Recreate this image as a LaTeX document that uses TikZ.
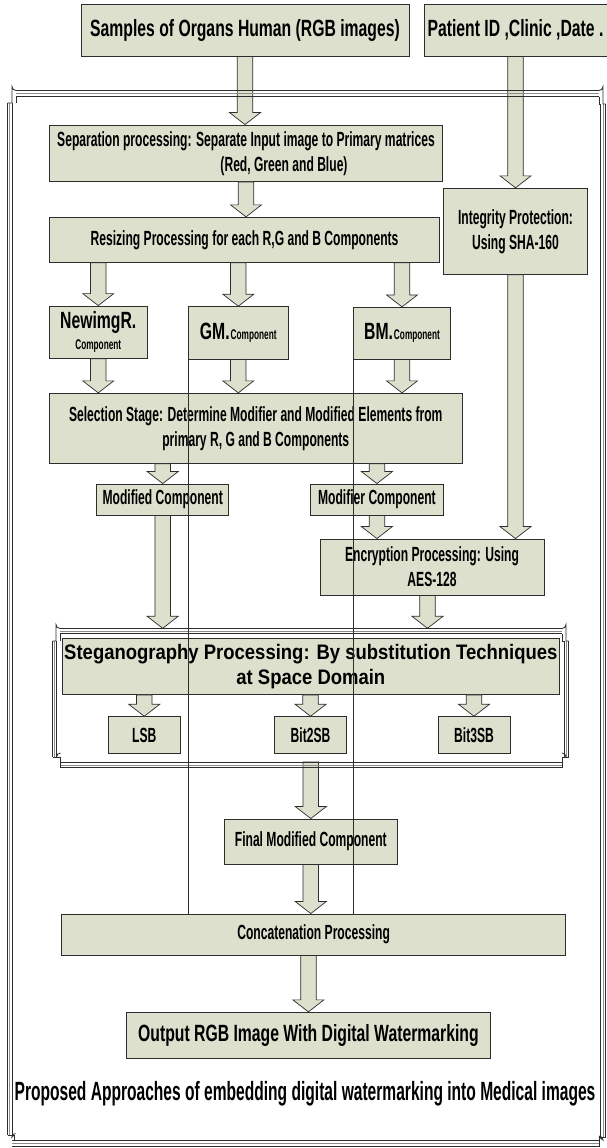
\documentclass[tikz,border=0pt]{standalone}
\usepackage{fontspec}
\usetikzlibrary{calc}
% condensed bold faces for the box labels
\newfontfamily\nb[FakeStretch=0.67]{Liberation Sans Bold}
\newfontfamily\nn[FakeStretch=0.59]{Liberation Sans Bold}
\newfontfamily\stegfont[FakeStretch=0.88]{Liberation Sans Bold}
\definecolor{boxfill}{RGB}{221,224,205}
\definecolor{edge}{RGB}{45,45,45}
\definecolor{midrule}{RGB}{140,140,140}

\tikzset{
  box/.style={draw=edge, fill=boxfill, line width=0.9pt, inner sep=0pt,
    align=center, text=black, font=\nn\fontsize{20.5}{25}\selectfont},
  bigtext/.style={font=\nb\fontsize{23.5}{28}\selectfont},
  blk/.style={draw=edge, fill=boxfill, line width=0.7pt, line join=miter,
    to path={let \p1=(\tikztostart), \p2=(\tikztotarget) in
      (\x1-7.75pt,\y1) -- (\x1-7.75pt,\y2+12pt) -- (\x1-15.5pt,\y2+12pt)
      -- (\x1,\y2) -- (\x1+15.5pt,\y2+12pt) -- (\x1+7.75pt,\y2+12pt)
      -- (\x1+7.75pt,\y1) -- cycle}},
  rule/.style={draw=edge, line width=0.8pt},
  rulelight/.style={draw=midrule, line width=0.6pt},
  thin/.style={draw=edge, line width=0.9pt},
}

\begin{document}
\begin{tikzpicture}[x=1pt,y=-1pt]
\useasboundingbox (0,0) rectangle (606,1148);
\fill[white] (0,0) rectangle (606,1148);

% ---------- boxes ----------
\node[box, bigtext, minimum width=328pt, minimum height=52pt] (samples) at (245,30)
  {Samples of Organs Human (RGB images)};
\node[box, bigtext, minimum width=183pt, minimum height=52pt] (patient) at (515.5,30)
  {Patient ID ,Clinic ,Date .};

\node[box, minimum width=393pt, minimum height=56.5pt] (sep) at (246,153.25)
  {Separation processing: Separate Input image to Primary matrices\\\hspace*{76pt}(Red, Green and Blue)};
\node[box, minimum width=144pt, minimum height=86pt] (integ) at (515.5,231.3)
  {Integrity Protection:\\Using SHA-160};
\node[box, minimum width=390pt, minimum height=45pt] (resize) at (244.5,239.8)
  {Resizing Processing for each R,G and B Components};

\node[box, font=\nn\fontsize{14}{21}\selectfont, minimum width=97.5pt, minimum height=52.3pt] (newr) at (98.25,332.2)
  {{\nb\fontsize{23.5}{21}\selectfont NewimgR.}\\Component};
\node[box, minimum width=99.4pt, minimum height=52.3pt] (gm) at (238.3,332.8)
  {{\nb\fontsize{23.5}{28}\selectfont GM.}\hspace{1pt}{\fontsize{14}{16}\selectfont Component}};
\node[box, minimum width=96.6pt, minimum height=51.7pt] (bm) at (402,333.2)
  {{\nb\fontsize{23.5}{28}\selectfont BM.}\hspace{1pt}{\fontsize{14}{16}\selectfont Component}};

\node[box, minimum width=412.5pt, minimum height=70pt] (sel) at (255.75,428.3)
  {Selection Stage: Determine Modifier and Modified Elements from\\primary R, G and B Components};
\node[box, minimum width=132.2pt, minimum height=31pt] (mod) at (162.7,499.5)
  {Modified Component};
\node[box, minimum width=133pt, minimum height=31pt] (modr) at (376.9,499.5)
  {Modifier Component};
\node[box, minimum width=224pt, minimum height=56pt] (enc) at (432,567)
  {Encryption Processing: Using\\AES-128};

\coordinate (sft) at (310,628.3);
\coordinate (sfb) at (310,762);
\node[box, font=\stegfont\fontsize{21}{25}\selectfont, minimum width=497.7pt, minimum height=56.2pt] (steg) at (310.85,666.4)
  {Steganography Processing: By substitution Techniques\\at Space Domain};
\node[box, minimum width=72.5pt, minimum height=36.6pt] (lsb) at (144.25,735) {LSB};
\node[box, minimum width=72.3pt, minimum height=36.6pt] (b2) at (310.55,735) {Bit2SB};
\node[box, minimum width=72pt, minimum height=36.6pt] (b3) at (474,735) {Bit3SB};

\node[box, minimum width=173.2pt, minimum height=45pt] (final) at (310.8,841.5)
  {Final Modified Component};
\node[box, minimum width=503.7pt, minimum height=41pt] (concat) at (313.65,934.5)
  {Concatenation Processing};
\node[box, bigtext, minimum width=363.2pt, minimum height=46pt] (out) at (308.4,1035.3)
  {Output RGB Image With Digital Watermarking};

\node[font=\nn\fontsize{26.4}{30}\selectfont, inner sep=0pt, anchor=base] (caption) at (305,1100)
  {Proposed Approaches of embedding digital watermarking into Medical images};

% ---------- block arrows ----------
\draw[blk] (samples.south) to (samples.south |- sep.north);
\draw[blk] (patient.south) to (integ.north);
\draw[blk] (sep.south) to (sep.south |- resize.north);
\draw[blk] (resize.south -| newr.north) to (newr.north);
\draw[blk] (resize.south -| gm.north) to (gm.north);
\draw[blk] (resize.south -| bm.north) to (bm.north);
\draw[blk] (newr.south) to (newr.south |- sel.north);
\draw[blk] (gm.south) to (gm.south |- sel.north);
\draw[blk] (bm.south) to (bm.south |- sel.north);
\draw[blk] (sel.south -| mod.north) to (mod.north);
\draw[blk] (sel.south -| modr.north) to (modr.north);
\draw[blk] (modr.south) to (modr.south |- enc.north);
\draw[blk] (integ.south) to (integ.south |- enc.north);
\draw[blk] (mod.south) to (mod.south |- sft);
\draw[blk] ([xshift=-4.5pt]enc.south) to ([xshift=-4.5pt]enc.south |- sft);
\draw[blk] (steg.south -| lsb.north) to (lsb.north);
\draw[blk] (steg.south -| b2.north) to (b2.north);
\draw[blk] (steg.south -| b3.north) to (b3.north);
\draw[blk] (sfb -| final.north) to (final.north);
\draw[blk] (final.south) to (final.south |- concat.north);
\draw[blk] (concat.south -| out.north) to (out.north);

% ---------- outer scroll frame ----------
\draw[rule] (16,90.5) -- (599,90.5);
\draw[rulelight] (16,93.5) -- (599,93.5);
\draw[rule] (16,96.5) -- (599,96.5);
\draw[rule] (7.5,103) -- (7.5,1135);
\draw[rulelight] (9.75,103) -- (9.75,1135);
\draw[rule] (12,103) -- (12,1135);
\draw[rule] (600.5,104) -- (600.5,1137);
\draw[rulelight] (603,104) -- (603,1137);
\draw[rule] (605.5,104) -- (605.5,1137);
\draw[rule] (12,1140.5) -- (599,1140.5);
\draw[rulelight] (12,1143.5) -- (599,1143.5);
\draw[rule] (12,1146.5) -- (599,1146.5);
% corner curls
\draw[rule] (16,90.5) arc[start angle=90, end angle=180, radius=4] -- (12,103) -- (7.5,103);
\draw[rule] (16,96.5) -- (16,103);
\draw[rule] (599,90.5) arc[start angle=90, end angle=0, radius=4] -- (603,104) -- (605.5,104);
\draw[rule] (599,96.5) -- (599,104) -- (600.5,104);
\draw[rule] (7.5,1135) -- (14,1135) -- (14,1140.5);
\draw[rule] (14,1135) -- (12,1137) arc[start angle=180, end angle=270, radius=3.5];
\draw[rule] (605.5,1137) -- (599,1137) -- (599,1146.5);
\draw[rule] (599,1137) -- (603,1140) arc[start angle=0, end angle=-90, radius=4];

% ---------- steganography frame ----------
\draw[rule] (60,628.5) -- (562,628.5);
\draw[rulelight] (60,631) -- (562,631);
\draw[rule] (60,633.5) -- (562,633.5);
\draw[rule] (60,762.5) -- (562,762.5);
\draw[rulelight] (60,765) -- (562,765);
\draw[rule] (60,767.5) -- (562,767.5);
\draw[rule] (52.5,641) -- (52.5,757);
\draw[rulelight] (54.5,641) -- (54.5,757);
\draw[rule] (56.5,641) -- (56.5,757);
\draw[rule] (564.5,641) -- (564.5,757);
\draw[rulelight] (566.5,641) -- (566.5,757);
\draw[rule] (568.5,641) -- (568.5,757);
\draw[rule] (60,628.5) arc[start angle=90, end angle=180, radius=4] -- (56,641) -- (52.5,641);
\draw[rule] (60,633.5) -- (60,641);
\draw[rule] (562,628.5) arc[start angle=90, end angle=0, radius=4] -- (566,641) -- (568.5,641);
\draw[rule] (562,633.5) -- (562,641) -- (564.5,641);
\draw[rule] (52.5,757) -- (60,757) -- (60,767.5);
\draw[rule] (56.5,757) arc[start angle=180, end angle=270, radius=4];
\draw[rule] (568.5,757) -- (562,757) -- (562,767.5);
\draw[rule] (566,757) arc[start angle=0, end angle=-90, radius=4];

% ---------- component guide lines ----------
\draw[thin] (gm.south west) -- (gm.south west |- concat.north);
\draw[thin] (bm.south west) -- (bm.south west |- concat.north);
\end{tikzpicture}
\end{document}
